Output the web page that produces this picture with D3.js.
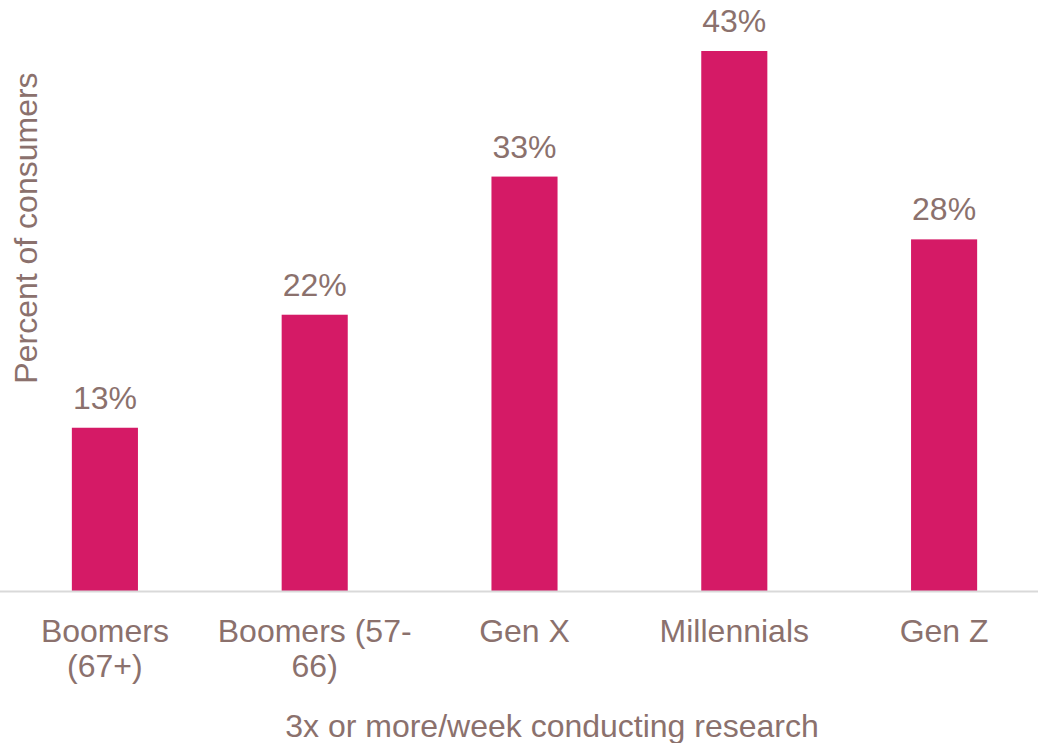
<!DOCTYPE html>
<html>
<head>
<meta charset="utf-8">
<script src="https://cdn.jsdelivr.net/npm/d3@7"></script>
<style>
  html, body { margin: 0; padding: 0; background: #ffffff; }
  svg { display: block; font-family: "Liberation Sans", Arial, sans-serif; }
</style>
</head>
<body>
<svg id="chart" width="1038" height="743"></svg>
<script>
// Share of consumers researching 3x or more per week, by generation
const categories = [["Boomers", "(67+)"], ["Boomers (57-", "66)"], ["Gen X"], ["Millennials"], ["Gen Z"]];
const values = [13, 22, 33, 43, 28];
const valueLabels = ["13%", "22%", "33%", "43%", "28%"];
const yTitle = "Percent of consumers";
const xTitle = "3x or more/week conducting research";

const barColor = "#d51a66";
const textColor = "#8b716d";
const fontSize = 32;

const svg = d3.select("#chart");
const baseline = 591;

const keys = categories.map(c => c.join(" "));
const x = d3.scaleBand()
  .domain(keys)
  .range([0, 1049])
  .paddingInner(0.685)
  .paddingOuter(0.3425);

const y = d3.scaleLinear()
  .domain([0, 43])
  .range([baseline, 51]);

// bars
svg.append("g")
  .selectAll("rect")
  .data(values)
  .join("rect")
  .attr("x", (d, i) => x(keys[i]))
  .attr("width", x.bandwidth())
  .attr("y", d => y(d))
  .attr("height", d => y(0) - y(d))
  .attr("fill", barColor);

// baseline axis
const xAxis = d3.axisBottom(x).tickSize(0).tickFormat("");
const axisG = svg.append("g")
  .attr("transform", `translate(0,${y(0) + 0.5})`)
  .call(xAxis);
axisG.select(".domain").remove();
axisG.append("line")
  .attr("x1", 0).attr("x2", 1038)
  .attr("stroke", "#d9d9d9").attr("stroke-width", 2);

// category labels (may span two lines)
const catG = svg.append("g")
  .attr("fill", textColor)
  .attr("font-size", fontSize)
  .attr("text-anchor", "middle");
categories.forEach((lines, i) => {
  const t = catG.append("text")
    .attr("x", x(keys[i]) + x.bandwidth() / 2)
    .attr("y", 642);
  lines.forEach((line, j) => {
    t.append("tspan")
      .attr("x", x(keys[i]) + x.bandwidth() / 2)
      .attr("dy", j === 0 ? 0 : 35)
      .text(line);
  });
});

// value labels
svg.append("g")
  .attr("fill", textColor)
  .attr("font-size", fontSize)
  .attr("text-anchor", "middle")
  .selectAll("text")
  .data(values)
  .join("text")
  .attr("x", (d, i) => x(keys[i]) + x.bandwidth() / 2)
  .attr("y", d => y(d) - 19)
  .text((d, i) => valueLabels[i]);

// axis titles
svg.append("text")
  .attr("transform", "translate(37,228) rotate(-90)")
  .attr("text-anchor", "middle")
  .attr("fill", textColor)
  .attr("font-size", fontSize)
  .text(yTitle);

svg.append("text")
  .attr("x", 552)
  .attr("y", 737)
  .attr("text-anchor", "middle")
  .attr("fill", textColor)
  .attr("font-size", fontSize)
  .text(xTitle);
</script>
</body>
</html>
